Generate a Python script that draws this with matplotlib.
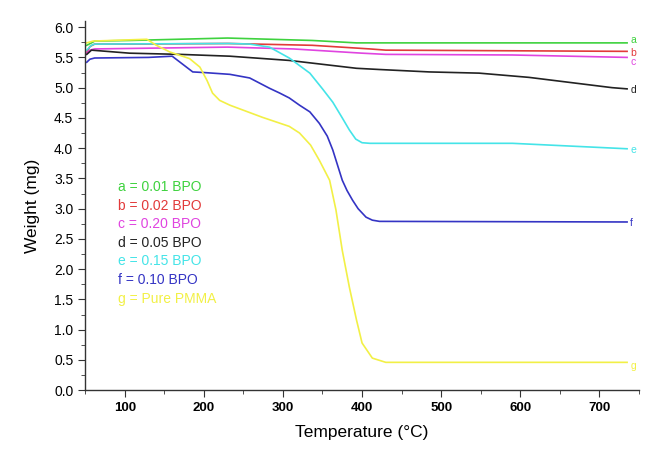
import matplotlib
matplotlib.use("Agg")
import matplotlib.pyplot as plt
from matplotlib.ticker import MultipleLocator

plt.rcParams["font.family"] = ["Liberation Sans", "DejaVu Sans"]

# TGA curves (temperature in degC, weight in mg)
temp_a = [52, 58, 62, 106, 230, 337, 393, 735]
wt_a = [5.70, 5.74, 5.77, 5.78, 5.82, 5.78, 5.74, 5.74]

temp_b = [52, 56, 62, 106, 230, 337, 410, 430, 735]
wt_b = [5.58, 5.68, 5.72, 5.72, 5.73, 5.70, 5.64, 5.62, 5.60]

temp_c = [52, 56, 62, 230, 313, 400, 430, 590, 735]
wt_c = [5.57, 5.62, 5.64, 5.67, 5.64, 5.57, 5.55, 5.54, 5.50]

temp_d = [52, 58, 106, 170, 233, 308, 393, 422, 485, 548, 611, 716, 735]
wt_d = [5.55, 5.62, 5.57, 5.55, 5.52, 5.45, 5.32, 5.30, 5.26, 5.24, 5.17, 5.00, 4.98]

temp_e = [52, 58, 62, 233, 258, 283, 308, 334, 350, 363, 375, 384, 392, 400, 410, 590, 735]
wt_e = [5.62, 5.70, 5.72, 5.73, 5.72, 5.67, 5.49, 5.24, 4.98, 4.76, 4.50, 4.30, 4.15, 4.09, 4.08, 4.08, 3.99]

temp_f = [52, 56, 62, 130, 160, 170, 186, 200, 233, 258, 283, 296, 308, 321, 334,
          346, 356, 363, 369, 375, 381, 388, 395, 405, 413, 422, 735]
wt_f = [5.42, 5.47, 5.49, 5.50, 5.52, 5.42, 5.26, 5.25, 5.22, 5.16, 4.99, 4.91, 4.83, 4.71, 4.60,
        4.41, 4.20, 3.97, 3.72, 3.47, 3.30, 3.14, 3.00, 2.86, 2.81, 2.79, 2.78]

temp_g = [52, 60, 128, 140, 157, 182, 195, 204, 211, 220, 233, 274, 308, 321, 335,
          346, 359, 367, 375, 384, 393, 400, 413, 430, 735]
wt_g = [5.74, 5.77, 5.80, 5.70, 5.59, 5.48, 5.34, 5.12, 4.91, 4.79, 4.71, 4.51, 4.36, 4.25, 4.05,
        3.80, 3.47, 2.98, 2.31, 1.70, 1.16, 0.78, 0.53, 0.46, 0.46]

series = [
    ("a", "a = 0.01 BPO", temp_a, wt_a, "#3ed23e"),
    ("b", "b = 0.02 BPO", temp_b, wt_b, "#e23a3a"),
    ("c", "c = 0.20 BPO", temp_c, wt_c, "#e044e0"),
    ("d", "d = 0.05 BPO", temp_d, wt_d, "#222222"),
    ("e", "e = 0.15 BPO", temp_e, wt_e, "#44e4e8"),
    ("f", "f = 0.10 BPO", temp_f, wt_f, "#3434c4"),
    ("g", "g = Pure PMMA", temp_g, wt_g, "#f2f046"),
]
# small vertical nudges for the end tags so a/b/c do not collide
tag_shift = {"a": 0.04, "b": -0.02, "c": -0.07, "d": -0.02, "e": -0.02, "f": -0.02, "g": -0.06}

fig = plt.figure(figsize=(6.5, 4.49), dpi=100)
ax = fig.add_axes([0.131, 0.131, 0.852, 0.822])

for tag, label, xs, ys, col in series:
    ax.plot(xs, ys, color=col, linewidth=1.2)
    ax.text(xs[-1] + 4, ys[-1] + tag_shift[tag], tag, color=col, fontsize=7.5,
            va="center", ha="left")

# colour-coded key in the lower left
for i, (tag, label, xs, ys, col) in enumerate(series):
    ax.text(0.06, 0.55 - i * 0.0503, label, color=col, fontsize=10,
            va="center", ha="left", transform=ax.transAxes)

ax.set_xlim(50, 750)
ax.set_ylim(0, 6.1)
ax.xaxis.set_major_locator(MultipleLocator(100))
ax.xaxis.set_minor_locator(MultipleLocator(50))
ax.yaxis.set_major_locator(MultipleLocator(0.5))
ax.yaxis.set_minor_locator(MultipleLocator(0.25))
ax.set_xticks([100, 200, 300, 400, 500, 600, 700])
ax.yaxis.set_major_formatter(matplotlib.ticker.FormatStrFormatter("%.1f"))

for s in ("top", "right"):
    ax.spines[s].set_visible(False)
for s in ("left", "bottom"):
    ax.spines[s].set_color("#333333")
    ax.spines[s].set_linewidth(1.0)

ax.tick_params(which="major", direction="out", length=5, color="#333333", labelsize=10)
ax.tick_params(which="minor", direction="out", length=3, color="#333333")
for t in ax.get_xticklabels():
    t.set_fontweight("bold")
    t.set_fontsize(9.5)

ax.set_xlabel("Temperature (\u00b0C)", fontsize=12.5, labelpad=8)
ax.set_ylabel("Weight (mg)", fontsize=12.5, labelpad=10)

fig.savefig("out.png", dpi=100)
